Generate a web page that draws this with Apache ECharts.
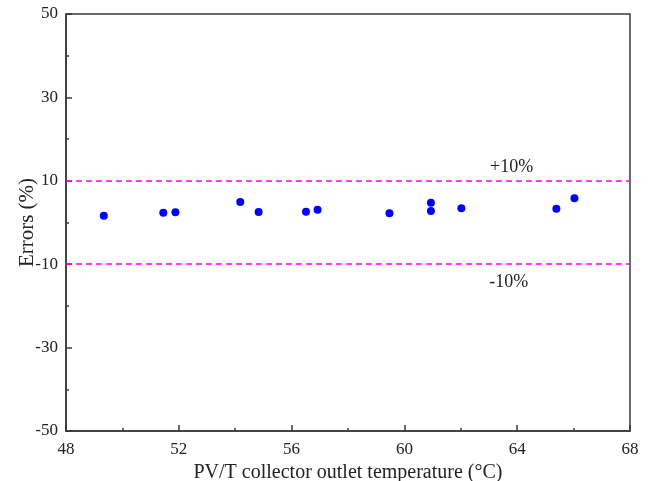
<!DOCTYPE html>
<html>
<head>
<meta charset="utf-8">
<script src="https://cdn.jsdelivr.net/npm/echarts@6/dist/echarts.min.js"></script>
<style>
  html, body { margin: 0; padding: 0; background: #fff; }
  #chart { width: 651px; height: 481px; }
</style>
</head>
<body>
<div id="chart"></div>
<script>
// measured points (outlet temperature, error %)
const temps  = [49.34, 51.45, 51.88, 54.18, 54.83, 56.51, 56.92, 59.47, 60.94, 60.94, 62.02, 65.39, 66.03];
const errors = [1.6, 2.35, 2.45, 4.9, 2.5, 2.6, 3.05, 2.2, 4.75, 2.75, 3.4, 3.3, 5.8];

const limits = [10, -10];
const limitLabels = ['+10%', '-10%'];
const limitLabelAt = [[63.8, 13.3], [63.7, -14.4]];

const yMajor = [-50, -30, -10, 10, 30, 50];

const font = 'Liberation Serif, Times New Roman, serif';
const axisColor = '#3a3a3a';

let chart = echarts.init(document.getElementById('chart'));
chart.setOption({
  animation: false,
  grid: {
    left: 66, top: 14, right: 21, bottom: 50,
    outerBoundsMode: 'none',
    show: true, borderColor: axisColor, borderWidth: 1.5
  },
  xAxis: {
    type: 'value',
    min: 48, max: 68, interval: 4,
    name: 'PV/T collector outlet temperature (°C)',
    nameLocation: 'middle', nameGap: 12,
    nameTextStyle: { fontFamily: font, fontSize: 20, color: '#222' },
    axisLine: { onZero: false, lineStyle: { color: axisColor, width: 1.5 } },
    axisTick: { inside: true, length: 6, lineStyle: { color: axisColor, width: 1.5 } },
    minorTick: { show: true, splitNumber: 2, length: 3, lineStyle: { color: axisColor, width: 1.5 } },
    axisLabel: { fontFamily: font, fontSize: 17, color: '#222', margin: 10 },
    splitLine: { show: false }
  },
  yAxis: [
    {
      type: 'value',
      min: -50, max: 50, interval: 10,
      name: 'Errors (%)',
      nameLocation: 'middle', nameGap: 28,
      nameTextStyle: { fontFamily: font, fontSize: 21, color: '#222' },
      axisLine: { show: true, onZero: false, lineStyle: { color: axisColor, width: 1.5 } },
      axisTick: { inside: true, length: 3, lineStyle: { color: axisColor, width: 1.5 } },
      axisLabel: { show: false },
      splitLine: { show: false }
    },
    {
      type: 'value',
      position: 'left',
      min: -50, max: 50, interval: 10,
      axisLine: { show: false },
      axisTick: { inside: true, length: 6, customValues: yMajor, lineStyle: { color: axisColor, width: 1.5 } },
      axisLabel: { fontFamily: font, fontSize: 17, color: '#222', margin: 8, customValues: yMajor },
      splitLine: { show: false }
    }
  ],
  series: [
    {
      type: 'scatter',
      yAxisIndex: 0,
      symbolSize: 8,
      itemStyle: { color: '#0000ff', opacity: 1 },
      data: temps.map((t, i) => [t, errors[i]]),
      markLine: {
        silent: true,
        symbol: 'none',
        label: { show: false },
        lineStyle: { color: '#ff00ff', type: [6, 4], width: 1.5 },
        data: limits.map(v => ({ yAxis: v }))
      },
      markPoint: {
        silent: true,
        symbol: 'circle',
        symbolSize: 1,
        itemStyle: { color: 'rgba(0,0,0,0)' },
        label: {
          show: true,
          position: 'inside',
          fontFamily: font, fontSize: 18, color: '#222',
          formatter: p => p.name
        },
        data: limitLabels.map((s, i) => ({ name: s, coord: limitLabelAt[i] }))
      }
    }
  ]
});
</script>
</body>
</html>
